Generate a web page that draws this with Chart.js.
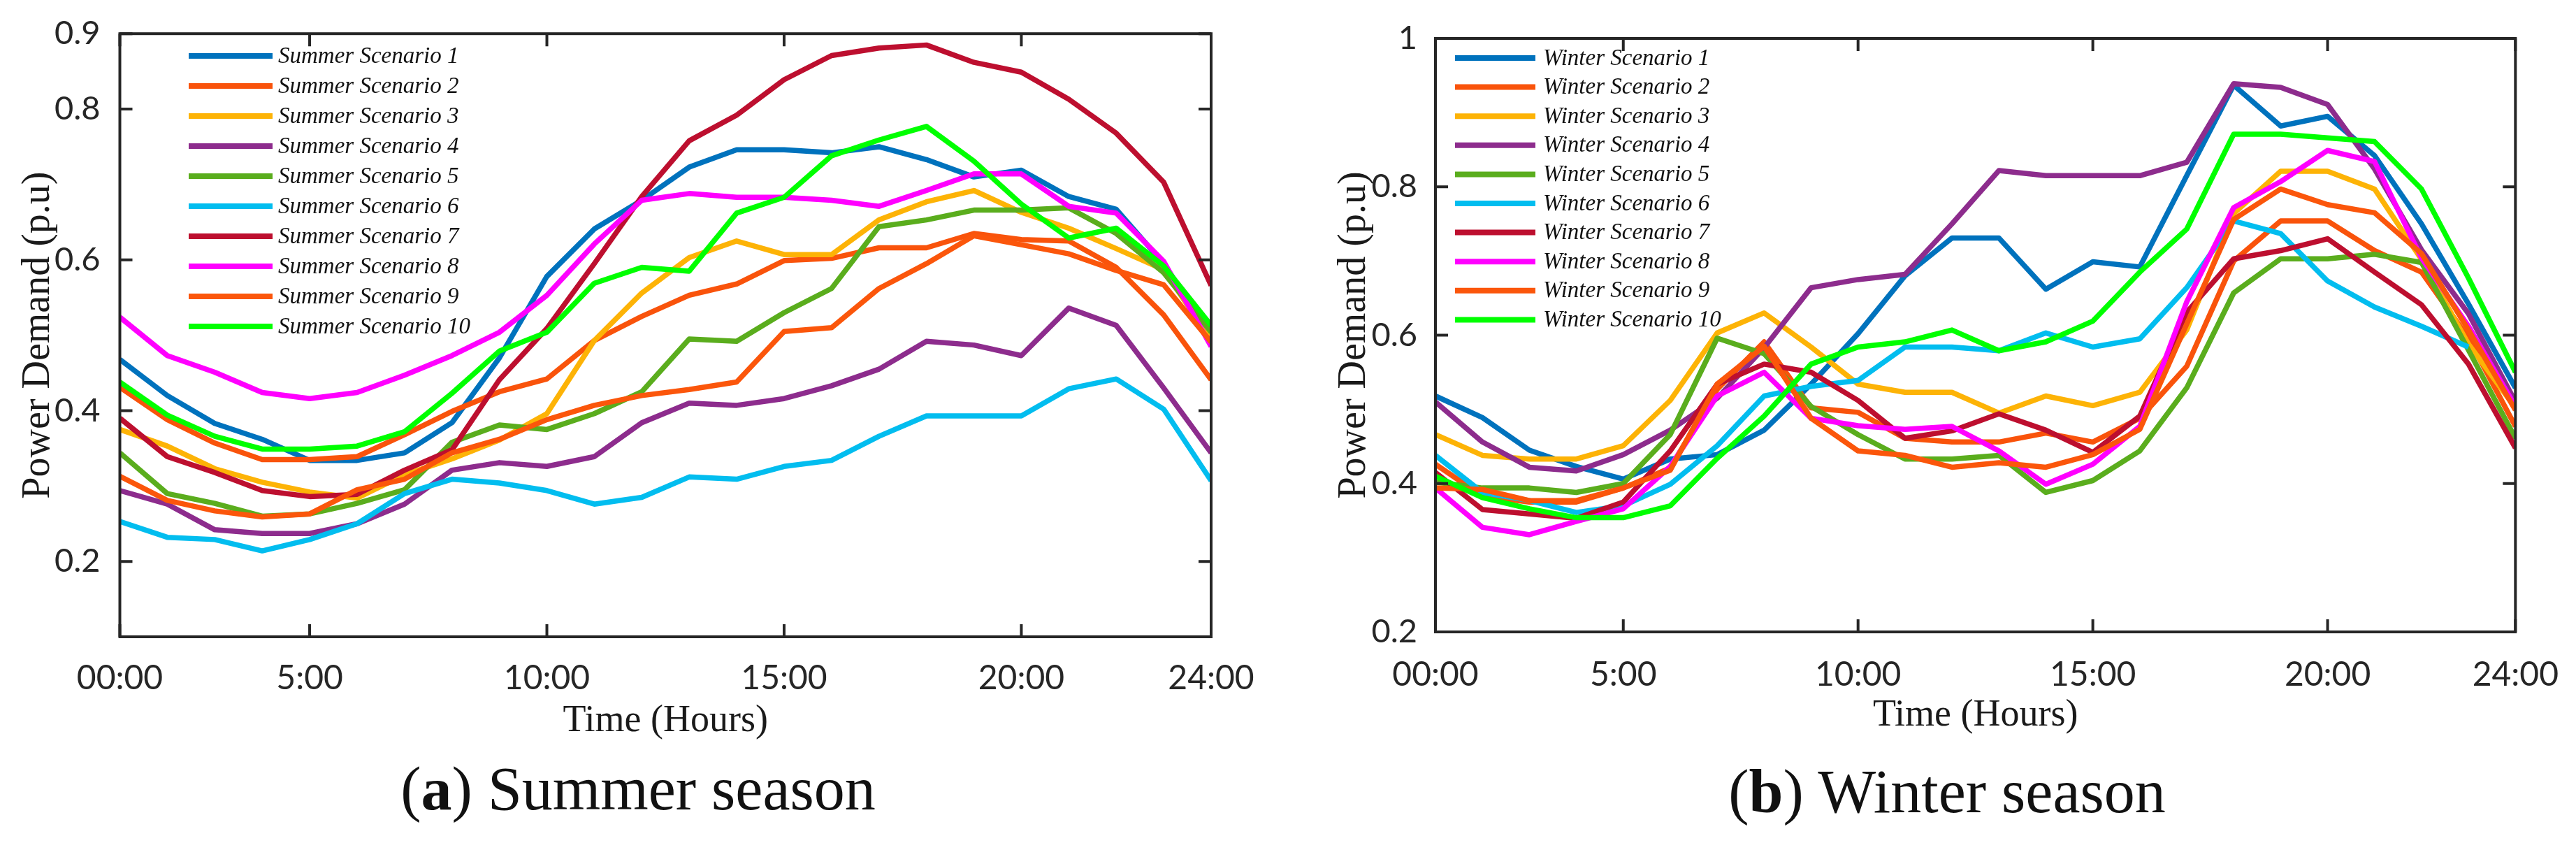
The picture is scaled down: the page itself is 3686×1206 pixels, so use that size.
<!DOCTYPE html>
<html>
<head>
<meta charset="utf-8">
<script src="https://cdn.jsdelivr.net/npm/chart.js@4.4.1/dist/chart.umd.min.js"></script>
<style>
  html, body { margin: 0; padding: 0; background: #fff; }
  #wrap { position: relative; width: 3686px; height: 1206px; overflow: hidden; }
  canvas { position: absolute; top: 0; }
  #summer { left: 0; }
  #winter { left: 1843px; }
  .cap { position: absolute; width: 1000px; text-align: center; font-family: 'Liberation Serif', 'Times New Roman', serif;
         font-size: 88px; line-height: 1; color: #111; white-space: nowrap; }
</style>
</head>
<body>
<div id="wrap">
  <canvas id="summer" width="1843" height="1206"></canvas>
  <canvas id="winter" width="1843" height="1206"></canvas>
  <div class="cap" style="left:413px; top:1085px;">(<b>a</b>) Summer season</div>
  <div class="cap" style="left:2286px; top:1089px;">(<b>b</b>) Winter season</div>
</div>
<script>
// hours 1..24, tick positions and labels
const hours = [1, 2, 3, 4, 5, 6, 7, 8, 9, 10, 11, 12, 13, 14, 15, 16, 17, 18, 19, 20, 21, 22, 23, 24];
const xTickVals = [1, 5, 10, 15, 20, 24];
const xTickLabels = ['00:00', '5:00', '10:00', '15:00', '20:00', '24:00'];
const summerYTicks = [0.2, 0.4, 0.6, 0.8, 0.9];
const winterYTicks = [0.2, 0.4, 0.6, 0.8, 1];

const summerNames = ['Summer Scenario 1', 'Summer Scenario 2', 'Summer Scenario 3', 'Summer Scenario 4', 'Summer Scenario 5',
  'Summer Scenario 6', 'Summer Scenario 7', 'Summer Scenario 8', 'Summer Scenario 9', 'Summer Scenario 10'];
const winterNames = ['Winter Scenario 1', 'Winter Scenario 2', 'Winter Scenario 3', 'Winter Scenario 4', 'Winter Scenario 5',
  'Winter Scenario 6', 'Winter Scenario 7', 'Winter Scenario 8', 'Winter Scenario 9', 'Winter Scenario 10'];

// summer scenarios (p.u)
const summer1 = [0.468, 0.420, 0.383, 0.362, 0.334, 0.334, 0.344, 0.384, 0.470, 0.578, 0.641, 0.679, 0.723, 0.746, 0.746, 0.742, 0.750, 0.733, 0.710, 0.719, 0.684, 0.667, 0.595, 0.501];
const summer2 = [0.431, 0.388, 0.357, 0.335, 0.335, 0.339, 0.368, 0.399, 0.425, 0.442, 0.493, 0.525, 0.553, 0.568, 0.599, 0.602, 0.616, 0.616, 0.635, 0.627, 0.625, 0.590, 0.527, 0.441];
const summer3 = [0.375, 0.353, 0.323, 0.305, 0.292, 0.284, 0.315, 0.336, 0.361, 0.396, 0.493, 0.556, 0.603, 0.625, 0.607, 0.607, 0.653, 0.677, 0.692, 0.663, 0.642, 0.615, 0.587, 0.493];
const summer4 = [0.294, 0.276, 0.242, 0.237, 0.237, 0.250, 0.276, 0.321, 0.331, 0.326, 0.339, 0.384, 0.410, 0.407, 0.416, 0.433, 0.455, 0.492, 0.487, 0.473, 0.536, 0.513, 0.430, 0.344];
const summer5 = [0.344, 0.290, 0.277, 0.260, 0.263, 0.277, 0.295, 0.358, 0.381, 0.375, 0.396, 0.425, 0.495, 0.492, 0.530, 0.562, 0.644, 0.653, 0.666, 0.666, 0.669, 0.635, 0.583, 0.504];
const summer6 = [0.253, 0.232, 0.229, 0.214, 0.229, 0.250, 0.290, 0.309, 0.304, 0.294, 0.276, 0.285, 0.312, 0.309, 0.326, 0.334, 0.366, 0.393, 0.393, 0.393, 0.429, 0.442, 0.402, 0.307];
const summer7 = [0.390, 0.339, 0.318, 0.294, 0.286, 0.289, 0.321, 0.348, 0.441, 0.509, 0.595, 0.684, 0.758, 0.792, 0.839, 0.871, 0.881, 0.885, 0.862, 0.849, 0.813, 0.768, 0.703, 0.566];
const summer8 = [0.524, 0.473, 0.451, 0.424, 0.416, 0.424, 0.447, 0.473, 0.504, 0.553, 0.621, 0.679, 0.688, 0.683, 0.683, 0.679, 0.671, 0.692, 0.714, 0.714, 0.671, 0.662, 0.598, 0.485];
const summer9 = [0.313, 0.281, 0.267, 0.259, 0.263, 0.295, 0.309, 0.344, 0.362, 0.388, 0.407, 0.420, 0.428, 0.438, 0.505, 0.510, 0.562, 0.595, 0.632, 0.620, 0.608, 0.586, 0.567, 0.491];
const summer10 = [0.438, 0.394, 0.366, 0.349, 0.349, 0.353, 0.372, 0.423, 0.479, 0.504, 0.569, 0.590, 0.585, 0.662, 0.683, 0.738, 0.759, 0.777, 0.731, 0.674, 0.629, 0.642, 0.592, 0.513];

// winter scenarios (p.u)
const winter1 = [0.518, 0.489, 0.445, 0.423, 0.406, 0.433, 0.439, 0.472, 0.534, 0.602, 0.680, 0.731, 0.731, 0.662, 0.699, 0.692, 0.815, 0.937, 0.882, 0.895, 0.842, 0.750, 0.642, 0.529];
const winter2 = [0.426, 0.383, 0.375, 0.375, 0.394, 0.421, 0.527, 0.591, 0.502, 0.496, 0.461, 0.456, 0.456, 0.468, 0.456, 0.488, 0.558, 0.700, 0.754, 0.754, 0.714, 0.685, 0.596, 0.477];
const winter3 = [0.466, 0.438, 0.433, 0.433, 0.451, 0.512, 0.603, 0.630, 0.584, 0.534, 0.523, 0.523, 0.495, 0.518, 0.505, 0.523, 0.607, 0.764, 0.821, 0.821, 0.797, 0.702, 0.588, 0.502];
const winter4 = [0.510, 0.456, 0.422, 0.417, 0.439, 0.472, 0.515, 0.583, 0.664, 0.675, 0.682, 0.750, 0.822, 0.815, 0.815, 0.815, 0.833, 0.939, 0.934, 0.911, 0.824, 0.715, 0.629, 0.510];
const winter5 = [0.402, 0.394, 0.394, 0.388, 0.400, 0.466, 0.596, 0.575, 0.504, 0.466, 0.433, 0.433, 0.438, 0.388, 0.404, 0.444, 0.529, 0.657, 0.703, 0.703, 0.709, 0.698, 0.580, 0.461];
const winter6 = [0.438, 0.388, 0.377, 0.361, 0.370, 0.399, 0.451, 0.518, 0.531, 0.539, 0.584, 0.584, 0.579, 0.603, 0.584, 0.595, 0.664, 0.754, 0.737, 0.673, 0.638, 0.612, 0.584, null];
const winter7 = [0.415, 0.365, 0.359, 0.353, 0.375, 0.444, 0.534, 0.561, 0.550, 0.512, 0.461, 0.471, 0.494, 0.472, 0.442, 0.491, 0.631, 0.703, 0.714, 0.730, 0.685, 0.641, 0.561, 0.448];
const winter8 = [0.394, 0.341, 0.331, 0.349, 0.366, 0.423, 0.518, 0.550, 0.488, 0.478, 0.473, 0.477, 0.444, 0.399, 0.426, 0.477, 0.645, 0.772, 0.807, 0.849, 0.834, 0.704, 0.612, 0.504];
const winter9 = [0.394, 0.392, 0.377, 0.377, 0.394, 0.418, 0.534, 0.585, 0.488, 0.444, 0.438, 0.422, 0.428, 0.422, 0.439, 0.473, 0.615, 0.756, 0.797, 0.776, 0.765, 0.710, 0.607, 0.499];
const winter10 = [0.410, 0.381, 0.366, 0.354, 0.354, 0.370, 0.434, 0.491, 0.561, 0.584, 0.591, 0.607, 0.579, 0.591, 0.619, 0.685, 0.743, 0.871, 0.871, 0.866, 0.861, 0.797, 0.677, 0.550];

const colors = ['#0072BD', '#F9530B', '#FDB306', '#8D2C8D', '#5AAD1D', '#02BDEF', '#BD0F2F', '#FF00FF', '#FB560B', '#00FF00'];
const axisColor = '#262626';

// frame + inward ticks on all four sides, like the matlab box
const framePlugin = {
  id: 'frame',
  afterDatasetsDraw(chart) {
    const { ctx, chartArea: a, scales: { x, y } } = chart;
    ctx.save();
    ctx.strokeStyle = axisColor;
    ctx.lineWidth = 4;
    ctx.beginPath();
    x.ticks.forEach(t => {
      const px = x.getPixelForValue(t.value);
      ctx.moveTo(px, a.bottom); ctx.lineTo(px, a.bottom - 18);
      ctx.moveTo(px, a.top); ctx.lineTo(px, a.top + 18);
    });
    y.ticks.forEach(t => {
      const py = y.getPixelForValue(t.value);
      ctx.moveTo(a.left, py); ctx.lineTo(a.left + 18, py);
      ctx.moveTo(a.right, py); ctx.lineTo(a.right - 18, py);
    });
    ctx.stroke();
    ctx.strokeRect(a.left, a.top, a.right - a.left, a.bottom - a.top);
    ctx.restore();
  }
};

// legend inside the axes, no box
const boxLegend = {
  id: 'boxLegend',
  afterDatasetsDraw(chart, args, opts) {
    const ctx = chart.ctx;
    ctx.save();
    ctx.font = 'italic 33px "Liberation Serif", "Times New Roman", serif';
    ctx.textBaseline = 'middle';
    ctx.textAlign = 'left';
    chart.data.datasets.forEach((ds, i) => {
      const yy = opts.y0 + i * opts.dy;
      ctx.strokeStyle = ds.borderColor;
      ctx.lineWidth = 8;
      ctx.beginPath();
      ctx.moveTo(opts.x0, yy);
      ctx.lineTo(opts.x1, yy);
      ctx.stroke();
      ctx.fillStyle = '#111';
      ctx.fillText(ds.label, opts.tx, yy + 1);
    });
    ctx.restore();
  }
};

function makeChart(id, names, series, yMin, yMax, yTicks, lay) {
  const ctx = document.getElementById(id).getContext('2d');
  return new Chart(ctx, {
    type: 'line',
    data: {
      datasets: series.map((vals, i) => ({
        label: names[i],
        data: hours.map((h, k) => ({ x: h, y: vals[k] })),
        borderColor: colors[i],
        backgroundColor: colors[i],
        borderWidth: 7.5,
        borderJoinStyle: 'round',
        pointRadius: 0,
        tension: 0,
        fill: false,
        order: series.length - i
      }))
    },
    options: {
      responsive: false,
      animation: false,
      devicePixelRatio: 1,
      layout: { padding: { left: 0, top: lay.top, right: lay.right, bottom: 0 } },
      plugins: {
        legend: { display: false },
        tooltip: { enabled: false },
        boxLegend: lay.legend
      },
      scales: {
        x: {
          type: 'linear',
          min: 1,
          max: 24,
          grid: { display: false },
          border: { display: false },
          afterBuildTicks: s => { s.ticks = xTickVals.map(v => ({ value: v })); },
          afterFit: s => { s.height = lay.xh; },
          ticks: {
            color: axisColor,
            padding: lay.xpad,
            maxRotation: 0,
            font: { family: 'Lato, "Liberation Sans", sans-serif', size: 48, lineHeight: 1.2 },
            callback: v => xTickLabels[xTickVals.indexOf(v)]
          },
          title: {
            display: true,
            text: 'Time (Hours)',
            color: '#1a1a1a',
            font: { family: '"Liberation Serif", "Times New Roman", serif', size: 54, lineHeight: 1.2 },
            padding: { top: 0, bottom: lay.xtpad }
          }
        },
        y: {
          min: yMin,
          max: yMax,
          grid: { display: false },
          border: { display: false },
          afterBuildTicks: s => { s.ticks = yTicks.map(v => ({ value: v })); },
          afterFit: s => { s.width = lay.yw; },
          ticks: {
            color: axisColor,
            padding: lay.ypad,
            font: { family: 'Lato, "Liberation Sans", sans-serif', size: 47 },
            callback: v => String(v)
          },
          title: {
            display: true,
            text: 'Power Demand (p.u)',
            color: '#1a1a1a',
            font: { family: '"Liberation Serif", "Times New Roman", serif', size: 56, lineHeight: 1 },
            padding: { top: lay.ytpad, bottom: 0 }
          }
        }
      }
    },
    plugins: [framePlugin, boxLegend]
  });
}

makeChart('summer', summerNames,
  [summer1, summer2, summer3, summer4, summer5, summer6, summer7, summer8, summer9, summer10],
  0.1, 0.9, summerYTicks,
  { top: 33, right: 110, yw: 171.5, xh: 295, xpad: 23, xtpad: 142, ypad: 20, ytpad: 27,
    legend: { x0: 270, x1: 390, tx: 398, y0: 80, dy: 43 } });

makeChart('winter', winterNames,
  [winter1, winter2, winter3, winter4, winter5, winter6, winter7, winter8, winter9, winter10],
  0.2, 1, winterYTicks,
  { top: 55, right: 80.5, yw: 211, xh: 302, xpad: 25, xtpad: 150, ypad: 18, ytpad: 67,
    legend: { x0: 239, x1: 354, tx: 365, y0: 83, dy: 41.6 } });
</script>
</body>
</html>
